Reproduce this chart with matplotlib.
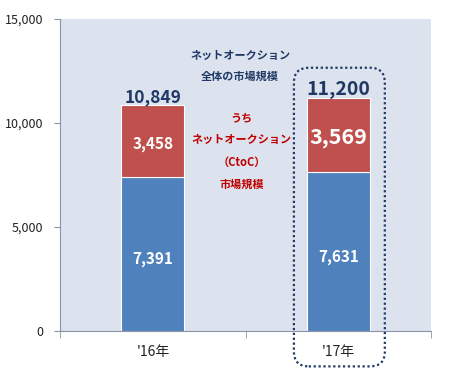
import numpy as np
import matplotlib
matplotlib.use('Agg')
import matplotlib.pyplot as plt
from matplotlib.patches import FancyBboxPatch

plt.rcParams['font.family'] = ['Noto Sans CJK JP', 'DejaVu Sans']

# data
years = ["'16年", "'17年"]
auction_other = [7391, 7631]
auction_ctoc = [3458, 3569]
totals = [10849, 11200]

navy = '#1f3864'
red_txt = '#c00000'
blue = '#4f81bd'
red = '#c0504d'

fig = plt.figure(figsize=(4.52, 3.77), dpi=100)
ax = fig.add_axes([0.133, 0.122, 0.821, 0.828])
ax.set_facecolor('#dce3ee')

x = np.arange(len(years))
w = 0.34
ax.bar(x, auction_other, w, color=blue, edgecolor='white', linewidth=0.8)
ax.bar(x, auction_ctoc, w, bottom=auction_other, color=red, edgecolor='white', linewidth=0.8)

# segment labels
other_sizes = [11, 11]
ctoc_sizes = [11, 15.5]
total_sizes = [12.5, 14]
for i in range(len(years)):
    ax.text(x[i], auction_other[i] / 2 - 250, f'{auction_other[i]:,}', ha='center', va='center',
            color='white', fontsize=other_sizes[i], fontweight='bold')
    ax.text(x[i], auction_other[i] + auction_ctoc[i] / 2 - 130, f'{auction_ctoc[i]:,}', ha='center', va='center',
            color='white', fontsize=ctoc_sizes[i], fontweight='bold')
    ax.text(x[i], totals[i] - 30, f'{totals[i]:,}', ha='center', va='bottom',
            color=navy, fontsize=total_sizes[i], fontweight='bold')

# annotations
ax.text(0.47, 13250, 'ネットオークション', ha='center', va='center', color=navy, fontsize=8, fontweight='bold')
ax.text(0.47, 12250, '全体の市場規模', ha='center', va='center', color=navy, fontsize=8, fontweight='bold')
red_lines = ['うち', 'ネットオークション', '（CtoC）', '市場規模']
for k, s in enumerate(red_lines):
    ax.text(0.48, 10250 - k * 1070, s, ha='center', va='center', color=red_txt, fontsize=8, fontweight='bold')

# dotted highlight box around '17
box = FancyBboxPatch((x[1] - 0.24, -1700), 0.49, 14350,
                     boxstyle='round,pad=0,rounding_size=0.08', mutation_aspect=8900,
                     fill=False, edgecolor=navy, linewidth=1.6, linestyle=(0, (1, 1.2)),
                     clip_on=False, zorder=5)
ax.add_patch(box)

ax.set_xlim(-0.5, 1.5)
ax.set_ylim(0, 15000)
ax.set_yticks([0, 5000, 10000, 15000])
ax.set_yticklabels(['0', '5,000', '10,000', '15,000'])
ax.set_xticks(x)
ax.set_xticklabels(years, fontsize=10)
ax.set_xticks([-0.5, 0.5, 1.5], minor=True)
ax.tick_params(axis='x', which='major', length=0, pad=10, colors='#222222')
ax.tick_params(axis='x', which='minor', length=5, color='#8a94a6')
ax.tick_params(axis='y', length=4, color='#8a94a6', labelsize=9, labelcolor='#222222', pad=8)
for s in ['top', 'right']:
    ax.spines[s].set_visible(False)
for s in ['left', 'bottom']:
    ax.spines[s].set_color('#8a94a6')

fig.savefig('out.png', dpi=100)
